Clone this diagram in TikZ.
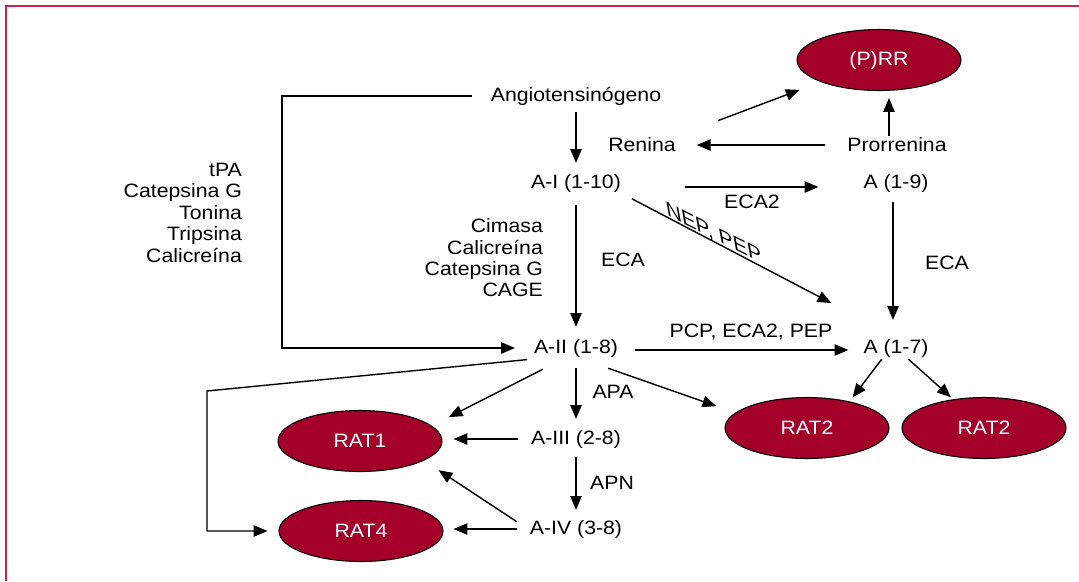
\documentclass[tikz,border=0pt]{standalone}
\usepackage{fontspec}
\setmainfont[FakeStretch=1.1]{Liberation Sans}
\usetikzlibrary{arrows,shapes.geometric}
\definecolor{ratred}{RGB}{163,0,42}
\definecolor{framered}{RGB}{205,35,75}

\begin{document}
\begin{tikzpicture}[font=\fontsize{11}{12.2}\selectfont,
  txt/.style={inner sep=1pt},
  rat/.style={ellipse, draw=black, line width=0.6pt, fill=ratred, text=white,
    minimum width=3.28cm, minimum height=1.22cm, inner sep=0pt},
  arr/.style={arrows={- triangle 45}, line width=0.8pt}]

\useasboundingbox (0,0) rectangle (21.58,-11.62);
\draw [framered, line width=1.4pt] (21.58,-0.12) -- (0.12,-0.12) -- (0.12,-11.62);

\node[txt] (ang) at (11.52,-1.92) {Angiotensinógeno};
\node[txt] (renina) at (12.84,-2.9) {Renina};
\node[txt] (prorrenina) at (17.94,-2.9) {Prorrenina};
\node[rat] (prr) at (17.58,-1.2) {(P)RR};

\node[txt] (ai) at (11.52,-3.66) {A-I (1-10)};
\node[txt] (a19) at (17.92,-3.66) {A (1-9)};
\node[txt] (aii) at (11.52,-6.96) {A-II (1-8)};
\node[txt] (a17) at (17.92,-6.96) {A (1-7)};
\node[txt] (aiii) at (11.52,-8.78) {A-III (2-8)};
\node[txt] (aiv) at (11.52,-10.58) {A-IV (3-8)};

\node[rat] (rat1) at (7.2,-8.82) {RAT1};
\node[rat] (rat4) at (7.22,-10.62) {RAT4};
\node[rat] (rat2a) at (16.14,-8.56) {RAT2};
\node[rat] (rat2b) at (19.68,-8.56) {RAT2};

\node[txt, anchor=east] (enzA) at (4.88,-4.3) {\begin{tabular}{@{}r@{}} tPA\\ Catepsina G\\ Tonina\\ Tripsina\\ Calicreína\end{tabular}};
\node[txt, anchor=east] (enzB) at (10.9,-5.21) {\begin{tabular}{@{}r@{}} Cimasa\\ Calicreína\\ Catepsina G\\ CAGE\end{tabular}};

\node[txt] (eca2) at (15.04,-4.04) {ECA2};
\node[txt] (ecaL) at (12.46,-5.2) {ECA};
\node[txt] (ecaR) at (18.94,-5.26) {ECA};
\node[txt] (pcp) at (15.02,-6.64) {PCP, ECA2, PEP};
\node[txt] (apa) at (12.26,-7.84) {APA};
\node[txt] (apn) at (12.24,-9.66) {APN};
\node[txt, yslant=-0.5, xslant=-0.2] (nep) at (14.28,-4.67) {NEP, PEP};

\coordinate (bend1) at (5.64,-6.96);
\coordinate (bend2) at (4.14,-7.82);

\draw [arr, shorten <=0.1cm, shorten >=0.18cm] (ang.south) -- (ai.north);
\draw [arr, shorten <=0.86cm, shorten >=0.45cm] (renina.north east) -- (prr.south west);
\draw [arr, shorten <=0.4cm, shorten >=0.38cm] (prorrenina.west) -- (renina.east);
\draw [arr, shorten >=0.14cm] ([xshift=-0.16cm]prorrenina.north) -- ([xshift=-0.16cm]prorrenina.north |- prr.south);
\draw [arr, shorten <=1.24cm, shorten >=0.86cm] ([yshift=-0.08cm]ai.east) -- ([yshift=-0.08cm]a19.west);
\draw [arr, shorten <=0.2cm, shorten >=1.46cm] (ai.south east) -- (a17.north);
\draw [arr, shorten <=0.22cm, shorten >=0.2cm] (ai.south) -- (aii.north);
\draw [arr, shorten <=0.16cm, shorten >=0.34cm] ([xshift=-0.06cm]a19.south) -- ([xshift=-0.06cm]a17.north);
%\draw [arr] (ang.west) -- (aii.west);
\draw [arr, shorten <=0.34cm, shorten >=0.34cm] (ang.west) -| (bend1) -- (aii.west);
\draw [arr, shorten <=0.3cm, shorten >=0.26cm] ([yshift=-0.04cm]aii.east) -- ([yshift=-0.04cm]a17.west);
\draw [arr, shorten <=0.45cm, shorten >=0.38cm] (aii.220) -- (rat1.12);
\draw [arr, shorten <=0.18cm, shorten >=0.18cm] (aii.south) -- (aiii.north);
\draw [arr, shorten <=0.55cm, shorten >=0.4cm] (aii.-61) -- (rat2a.168);
\draw [arr, shorten >=0.1cm] (a17.218) -- (rat2a.32);
\draw [arr, shorten >=0.06cm] (a17.-42) -- (rat2b.137);
\draw [arr, shorten <=0.22cm, shorten >=0.22cm] (aiii.west) -- (aiii.west -| rat1.east);
\draw [arr, shorten <=0.14cm, shorten >=0.16cm] (aiii.south) -- (aiv.north);
\draw [arr, shorten <=0.22cm, shorten >=0.2cm] (aiv.west) -- (aiv.west -| rat4.east);
\draw [arr, shorten <=0.27cm, shorten >=0.35cm] (aiv.west) -- (rat1.-17);
\draw [arr, shorten <=0.1cm, shorten >=0.22cm] (aii.south west) -- (bend2) |- (rat4.west);

\end{tikzpicture}
\end{document}
